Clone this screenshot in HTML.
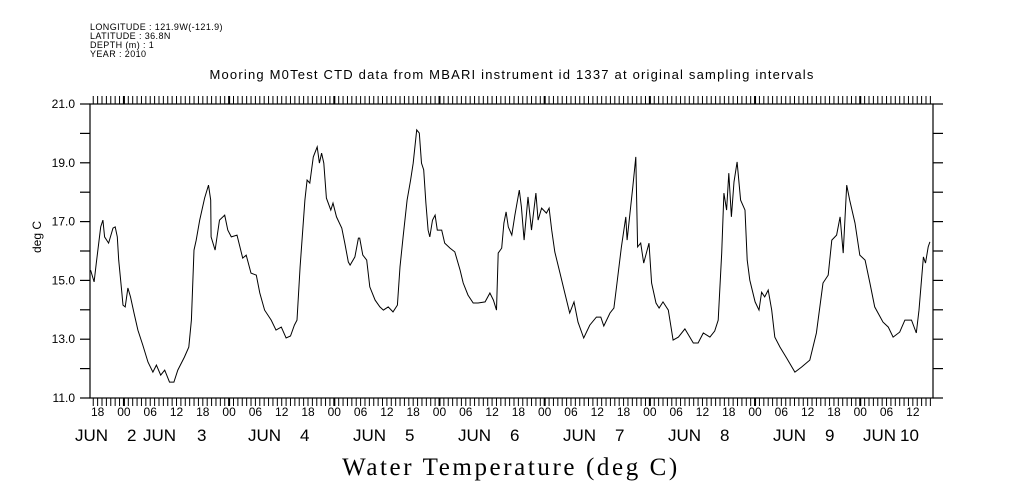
<!DOCTYPE html>
<html><head><meta charset="utf-8"><style>
html,body{margin:0;padding:0;background:#fff;}
svg{display:block;font-family:"Liberation Sans",sans-serif;}
</style></head><body>
<svg id="chart" width="1009" height="504" viewBox="0 0 1009 504" xmlns="http://www.w3.org/2000/svg">
<g font-size="9" fill="#000" letter-spacing="0.4">
<text x="90" y="30">LONGITUDE : 121.9W(-121.9)</text>
<text x="90" y="39">LATITUDE : 36.8N</text>
<text x="90" y="48">DEPTH (m) : 1</text>
<text x="90" y="57">YEAR : 2010</text>
</g>
<text x="512" y="79" text-anchor="middle" font-size="13" letter-spacing="1.2">Mooring M0Test CTD data from MBARI instrument id 1337 at original sampling intervals</text>
<text x="511" y="475" text-anchor="middle" font-size="25" letter-spacing="2.6" font-family="'Liberation Serif',serif">Water Temperature (deg C)</text>
<text transform="translate(41,237) rotate(-90)" text-anchor="middle" font-size="12">deg C</text>
<rect x="90" y="104" width="843" height="294" fill="none" stroke="#000" stroke-width="1.2"/>
<g id="ticks"></g>
<g id="labels" font-size="12"></g>
<path id="line" fill="none" stroke="#000" stroke-width="1"/>
</svg>
<script>
// hours since Jun 1 00:00 2010
const hours=[16.4,17.2,17.7,18.7,19.2,19.6,20.5,21.5,22.0,22.5,22.8,23.4,23.8,24.3,24.9,25.5,26.3,27.2,28.3,29.5,30.6,31.4,32.4,33.3,34.4,35.4,36.3,37.8,38.8,39.4,40.0,40.5,41.3,42.4,43.3,43.8,43.9,44.8,45.8,47.0,47.7,48.5,49.8,51.1,51.9,53.0,54.2,55.0,56.1,57.6,58.7,59.9,61.0,62.0,62.9,63.5,64.2,65.3,65.8,66.4,67.2,68.1,68.6,69.1,69.6,70.2,71.2,71.7,72.5,73.7,74.4,75.2,75.6,76.7,77.5,77.8,78.5,79.4,80.1,81.3,82.4,83.2,84.3,85.4,86.4,87.0,87.7,88.6,89.4,90.0,90.8,91.4,91.9,92.4,92.9,93.4,93.8,94.4,95.0,95.5,96.5,97.2,98.4,99.5,100.7,101.4,102.5,103.7,104.8,106.4,107.5,108.3,109.0,109.4,110.2,110.7,111.2,111.7,112.5,113.2,114.2,114.7,115.3,116.2,117.0,118.0,118.5,119.3,120.4,121.0,121.6,122.3,123.5,124.6,125.7,126.7,127.6,128.9,130.3,131.8,132.8,133.5,134.9,135.8,136.5,137.5,138.5,138.8,140.1,140.8,141.2,141.9,142.6,143.8,144.4,145.4,146.1,147.0,148.2,149.3,150.5,152.0,153.1,153.9,155.0,156.2,157.7,158.8,159.6,160.4,160.9,161.5,162.0,162.6,163.2,163.9,164.7,165.7,166.2,166.8,168.0,168.9,169.5,170.2,171.0,171.8,172.5,173.7,175.2,177.1,178.6,180.5,182.0,183.5,184.7,185.5,186.6,187.4,188.1,188.9,189.6,190.8,191.9,193.1,194.2,195.3,197.2,198.4,199.5,201.0,202.2,203.7,204.8,205.4,206.4,206.9,207.5,207.9];
const temps=[15.35,14.95,15.59,16.82,17.05,16.48,16.27,16.78,16.82,16.48,15.69,14.78,14.16,14.10,14.74,14.44,13.89,13.31,12.80,12.22,11.88,12.12,11.78,11.95,11.54,11.54,11.95,12.39,12.73,13.65,16.03,16.37,17.05,17.80,18.24,17.73,16.48,16.03,17.05,17.22,16.71,16.48,16.54,15.76,15.86,15.25,15.18,14.57,13.99,13.65,13.31,13.41,13.04,13.11,13.48,13.65,15.46,17.73,18.41,18.31,19.20,19.54,18.99,19.33,18.99,17.80,17.39,17.63,17.16,16.78,16.27,15.63,15.52,15.80,16.44,16.44,15.86,15.69,14.78,14.33,14.10,13.99,14.10,13.93,14.16,15.46,16.48,17.73,18.41,18.99,20.12,20.01,18.99,18.76,17.63,16.71,16.48,17.05,17.22,16.71,16.71,16.27,16.10,15.97,15.35,14.91,14.50,14.23,14.23,14.27,14.57,14.33,13.99,15.93,16.10,16.95,17.33,16.82,16.54,17.22,18.07,17.50,16.37,17.84,16.71,17.97,17.05,17.46,17.29,17.46,16.71,15.97,15.25,14.57,13.89,14.27,13.58,13.04,13.48,13.75,13.75,13.45,13.89,14.06,14.91,16.14,17.16,16.37,18.18,19.20,16.14,16.27,15.59,16.27,14.91,14.23,14.06,14.27,13.99,12.97,13.07,13.35,13.07,12.87,12.87,13.21,13.07,13.28,13.65,15.93,17.97,17.39,18.65,17.16,18.35,19.03,17.73,17.39,15.69,15.01,14.27,13.99,14.60,14.44,14.67,13.99,13.07,12.73,12.36,11.88,12.05,12.29,13.21,14.91,15.18,16.37,16.54,17.16,15.93,18.24,17.73,16.95,15.86,15.69,14.91,14.10,13.58,13.41,13.07,13.24,13.65,13.65,13.21,13.99,15.80,15.59,16.14,16.31];
const yTickLabels=["21.0","19.0","17.0","15.0","13.0","11.0"];
const hourLabels=["18","00","06","12"];
const dayLabels=["2","3","4","5","6","7","8","9","10"];

const NS="http://www.w3.org/2000/svg";
const X0=90,X1=933,Y0=104,Y1=398,H0=16.26,H1=208.6,T0=11,T1=21;
function xs(h){return X0+(h-H0)/(H1-H0)*(X1-X0);}
function ys(t){return Y1-(t-T0)/(T1-T0)*(Y1-Y0);}
function mk(tag,attrs,parent){const e=document.createElementNS(NS,tag);for(const k in attrs)e.setAttribute(k,attrs[k]);parent.appendChild(e);return e;}
const tg=document.getElementById('ticks'),lg=document.getElementById('labels');
let d="";
for(let i=0;i<hours.length;i++){d+=(i?"L":"M")+xs(hours[i]).toFixed(1)+" "+ys(temps[i]).toFixed(1);}
document.getElementById('line').setAttribute('d',d);
for(let h=Math.ceil(H0);h<=H1;h++){
  const x=xs(h),day=(h%24===0);
  const t1=mk('line',{x1:x,x2:x,y1:Y0,y2:Y0-8,stroke:'#000','stroke-width':day?2:1},tg);
  
  
  const t2=mk('line',{x1:x,x2:x,y1:Y1,y2:Y1+8,stroke:'#000','stroke-width':day?2:1},tg);
  
  
}
for(let t=T0;t<=T1;t++){
  const y=ys(t);
  const a=mk('line',{x1:X0-10,x2:X0,y1:y,y2:y,stroke:'#000','stroke-width':1.2},tg);
  
  
  const b=mk('line',{x1:X1,x2:X1+10,y1:y,y2:y,stroke:'#000','stroke-width':1.2},tg);
  
  
}
yTickLabels.forEach(s=>{
  const el=mk('text',{x:75,y:ys(parseFloat(s))+4,'text-anchor':'end'},lg);
  el.textContent=s;
  
  
});
let k=0;
for(let h=18;h<=H1;h+=6){
  const el=mk('text',{x:xs(h),y:416,'text-anchor':'middle'},lg);
  el.textContent=hourLabels[k%4];k++;
  
  
}
const junX=[75,143,248,353,458,563,668,773,863];
const numX=[127,197,300,405,510,615,720,825,900];
dayLabels.forEach((s,i)=>{
  const a=mk('text',{x:junX[i],y:441,'font-size':17},lg);
  a.textContent="JUN";
  
  
  const b=mk('text',{x:numX[i],y:441,'font-size':17},lg);
  b.textContent=s;
  
  
});
</script>
</body></html>
